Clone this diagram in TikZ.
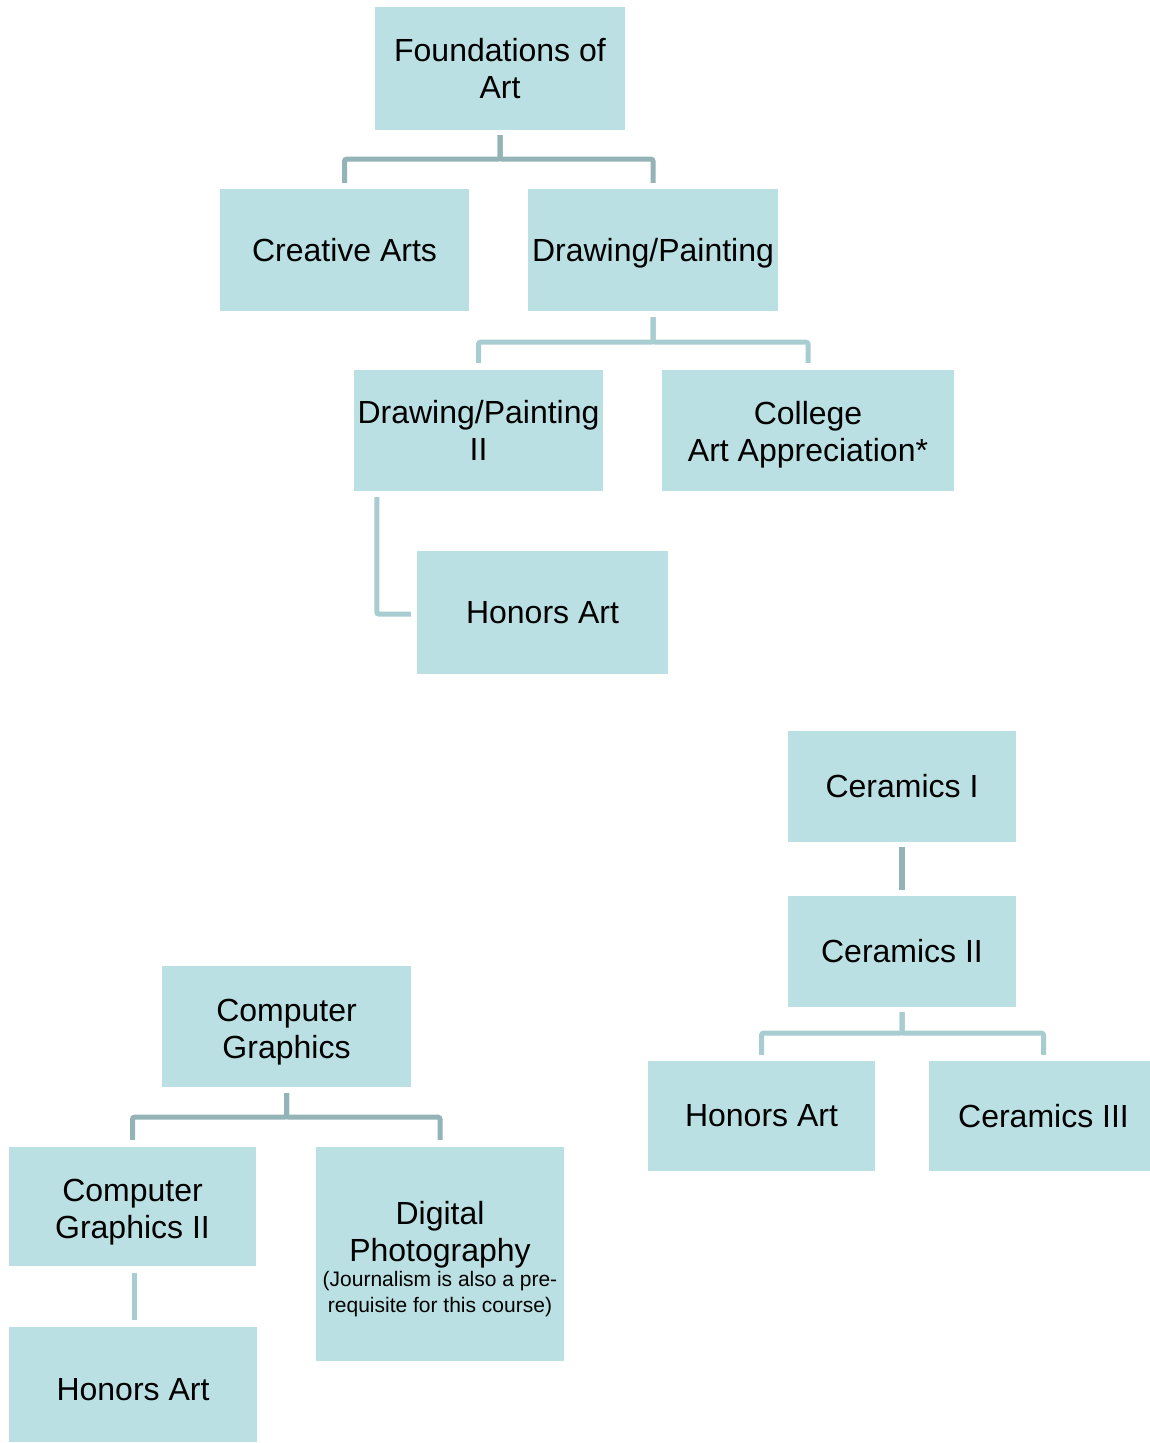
\documentclass[tikz,border=0pt]{standalone}
\usepackage{fontspec}
\setmainfont{Liberation Sans}
\usetikzlibrary{positioning}
\definecolor{boxfill}{HTML}{BAE0E3}
\definecolor{conndark}{HTML}{94B3B7}
\definecolor{connlight}{HTML}{A8CDD1}
\newcommand{\upstrut}[1]{\rule{0pt}{#1}}
\tikzset{
  box/.style={rectangle, fill=boxfill, inner sep=0pt, align=center,
    font=\fontsize{32}{37}\selectfont, text=black},
  conn/.style={draw=conndark, line width=5pt, rounded corners=2pt},
  connl/.style={draw=connlight, line width=5pt, rounded corners=2pt},
}
\begin{document}
\begin{tikzpicture}[x=1pt,y=-1pt]
\fill[white] (0,0) rectangle (1150,1443);
\useasboundingbox (0,0) rectangle (1150,1443);

% top tree
\node[box, minimum width=250pt, minimum height=123pt] (fa) at (500,68.5) {Foundations of\\Art};
\node[box, minimum width=249pt, minimum height=122pt] (ca) at (344.5,250) {Creative Arts};
\node[box, minimum width=250pt, minimum height=122pt] (dp) at (653,250) {\upstrut{29.5pt}Drawing/Painting};
\node[box, minimum width=249pt, minimum height=121pt] (dp2) at (478.5,430.5) {Drawing/Painting\\II};
\node[box, minimum width=292pt, minimum height=121pt] (caa) at (808,430.5) {\upstrut{31.5pt}College\\Art Appreciation*};
\node[box, minimum width=251pt, minimum height=123pt] (ha1) at (542.5,612.5) {Honors Art};

% ceramics tree
\node[box, minimum width=228pt, minimum height=111pt] (c1) at (902,786.5) {Ceramics I};
\node[box, minimum width=228pt, minimum height=111pt] (c2) at (902,951.5) {Ceramics II};
\node[box, minimum width=227pt, minimum height=110pt] (ha2) at (761.5,1116) {Honors Art};
\node[box, minimum width=229pt, minimum height=110pt] (c3) at (1043.5,1116) {Ceramics III};

% computer graphics tree
\node[box, minimum width=249pt, minimum height=121pt] (cg) at (286.5,1026.5) {\upstrut{33.3pt}Computer\\Graphics};
\node[box, minimum width=247pt, minimum height=119pt] (cg2) at (132.5,1206.5) {\upstrut{33.3pt}Computer\\Graphics II};
\node[box, minimum width=248pt, minimum height=214pt] (dph) at (440,1254)
  {\upstrut{32.5pt}Digital\\Photography\\[-12pt]{\fontsize{21}{25}\selectfont (Journalism is also a pre-}\\[-11pt]{\fontsize{21}{25}\selectfont requisite for this course)}};
\node[box, minimum width=248pt, minimum height=115pt] (ha3) at (133,1384.5) {\upstrut{31.5pt}Honors Art};

% connectors top
\draw[conn] ([yshift=-5pt]fa.south) -- ++(0,-24pt) -| ([yshift=6pt]ca.north);
\draw[conn] ([yshift=-5pt]fa.south) -- ++(0,-24pt) -| ([yshift=6pt]dp.north);
\draw[connl] ([yshift=-6pt]dp.south) -- ++(0,-25pt) -| ([yshift=7pt]dp2.north);
\draw[connl] ([yshift=-6pt]dp.south) -- ++(0,-25pt) -| ([yshift=7pt]caa.north);
\draw[connl] ([xshift=23pt,yshift=-6pt]dp2.south west) |- ([xshift=-6pt,yshift=-1.5pt]ha1.west);

% connectors ceramics
\draw[conndark, line width=6pt] ([yshift=-5pt]c1.south) -- ([yshift=6pt]c2.north);
\draw[connl] ([yshift=-5pt]c2.south) -- ++(0,-21pt) -| ([yshift=6pt]ha2.north);
\draw[connl] ([yshift=-5pt]c2.south) -- ++(0,-21pt) -| ([yshift=6pt]c3.north);

% connectors computer graphics
\draw[conn] ([yshift=-6pt]cg.south) -- ++(0,-24pt) -| ([yshift=7pt]cg2.north);
\draw[conn] ([yshift=-6pt]cg.south) -- ++(0,-24pt) -| ([yshift=7pt]dph.north);
\draw[connl] ([yshift=-7pt,xshift=1.5pt]cg2.south) -- ([yshift=7pt,xshift=1pt]ha3.north);
\end{tikzpicture}
\end{document}
